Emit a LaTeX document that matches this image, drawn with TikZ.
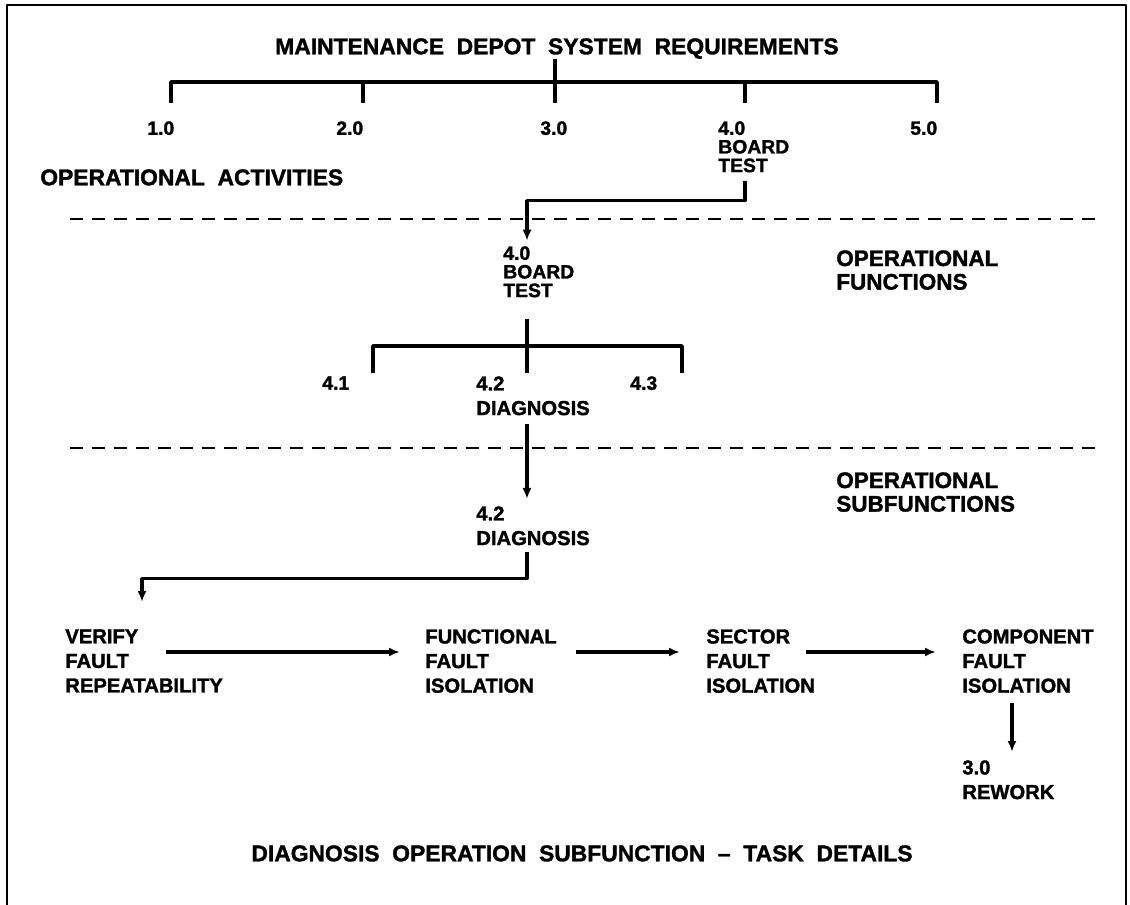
\documentclass[tikz,border=0pt]{standalone}
\usepackage{fontspec}
\setmainfont{Liberation Sans}[BoldFeatures={FakeBold=1.5}]
\newfontfamily\hdrfont{Liberation Sans}[WordSpace=2,BoldFeatures={FakeBold=1.5}]
\usetikzlibrary{arrows.meta}
\begin{document}
\begin{tikzpicture}[x=0.02cm,y=-0.02cm, line join=round,
  hdr/.style={font=\hdrfont\fontsize{13}{16}\selectfont\bfseries, inner sep=0pt},
  side/.style={font=\fontsize{12.8}{13.4}\selectfont\bfseries, inner sep=0pt, align=left, anchor=north west},
  tag/.style={font=\fontsize{11}{10.6}\selectfont\bfseries, inner sep=0pt, align=left, anchor=north west},
  task/.style={font=\fontsize{11.5}{14}\selectfont\bfseries, inner sep=0pt, align=left, anchor=north west},
  tree/.style={line width=2pt},
  flow/.style={line width=1.8pt, -{Latex[length=2.2mm,width=1.8mm]}},
  sep/.style={line width=1.2pt, dash pattern=on 0.26cm off 0.18cm}]
	\useasboundingbox (0,0) rectangle (1130,905);
	\draw[line width=1.5pt] (7,905) -- (7,5) -- (1126,5) -- (1126,905);
	\coordinate (mid) at (527,0);
	% Level 1
	\node[hdr, anchor=north] (req) at (557,38) {MAINTENANCE DEPOT SYSTEM REQUIREMENTS};
	\coordinate (b1) at (171,103); \coordinate (b2) at (363,103); \coordinate (b3) at (555,103);
	\coordinate (b4) at (745,103); \coordinate (b5) at (937,103);
	\draw[tree] (b1) -- ++(0,-21) -| (b5);
	\draw[tree] (b2) -- ++(0,-21); \draw[tree] (b4) -- ++(0,-21);
	\draw[tree] (req.south -| b3) -- (b3);
	\node[tag] (a1) at (147,121) {1.0};
	\node[tag] (a2) at (336,121) {2.0};
	\node[tag] (a3) at (540,121) {3.0};
	\node[tag] (a4) at (718,121) {4.0\\BOARD\\TEST};
	\node[tag] (a5) at (910,121) {5.0};
	\node[hdr, anchor=north west] (acts) at (40,169) {OPERATIONAL ACTIVITIES};
	\draw[sep] (70,219) -- (1095,219);
	% Level 2
	\node[tag] (f0) at (503,246) {4.0\\BOARD\\TEST};
	\node[side] (lvl2) at (836,250) {OPERATIONAL\\FUNCTIONS};
	\draw[flow] (a4.south -| b4) ++(0,8) -- ++(0,20) -| ([yshift=3]f0.north -| mid);
	\coordinate (c1) at (373,373); \coordinate (c2) at (527,373); \coordinate (c3) at (682,373);
	\draw[tree] (f0.south -| mid) ++(0,21) -- (c2);
	\draw[tree] (c1) -- ++(0,-27) -| (c3);
	\node[tag] (f1) at (322,376) {4.1};
	\node[task] (f2) at (476,376) {4.2\\DIAGNOSIS};
	\node[tag] (f3) at (630,376) {4.3};
	\draw[sep] (70,448) -- (1095,448);
	% Level 3
	\node[side] (lvl3) at (836,472) {OPERATIONAL\\SUBFUNCTIONS};
	\node[task] (s0) at (476,506) {4.2\\DIAGNOSIS};
	\draw[flow] (f2.south -| mid) ++(0,8) -- ([yshift=4]s0.north -| mid);
	\node[task] (t1) at (65,629) {VERIFY\\FAULT\\REPEATABILITY};
	\node[task] (t2) at (425,629) {FUNCTIONAL\\FAULT\\ISOLATION};
	\node[task] (t3) at (706,629) {SECTOR\\FAULT\\ISOLATION};
	\node[task] (t4) at (962,629) {COMPONENT\\FAULT\\ISOLATION};
	\node[task] (rw) at (962,760) {3.0\\REWORK};
	\coordinate (vin) at (142,602);
	\draw[flow] (s0.south -| mid) ++(0,6) -- ++(0,27) -| (vin);
	\draw[flow] ([shift={(101,23)}]t1.north west) -- ([shift={(-25,23)}]t2.north west);
	\draw[flow] ([shift={(151,23)}]t2.north west) -- ([shift={(-26,23)}]t3.north west);
	\draw[flow] ([shift={(100,23)}]t3.north west) -- ([shift={(-26,23)}]t4.north west);
	\draw[flow] ([shift={(50,74)}]t4.north west) -- ([shift={(50,-8)}]rw.north west);
	\node[hdr, anchor=north] (cap) at (582,845) {DIAGNOSIS OPERATION SUBFUNCTION – TASK DETAILS};
\end{tikzpicture}
\end{document}
